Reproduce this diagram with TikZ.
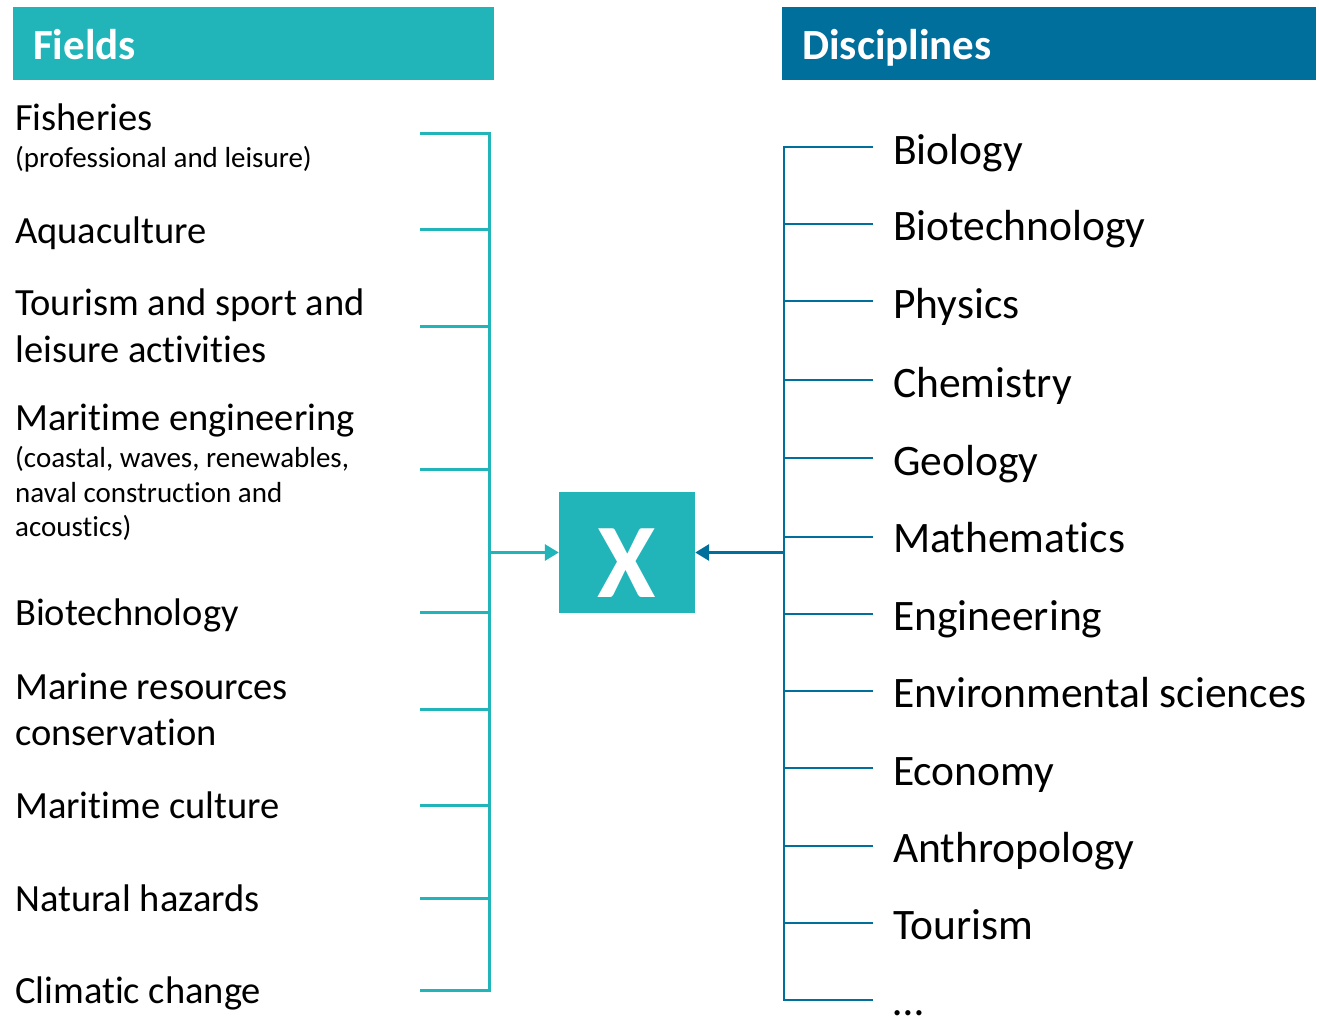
\documentclass[tikz,border=0pt]{standalone}
\usepackage{fontspec}
\setmainfont{Carlito}[Ligatures=NoCommon,RawFeature={-liga;-clig;-calt;-dlig}]
\usetikzlibrary{arrows.meta}
\definecolor{teal1}{HTML}{21B5B9}
\definecolor{blue1}{HTML}{016F9B}
\begin{document}
\begin{tikzpicture}[x=1pt,y=-1pt,
  hdr/.style={anchor=base west,text=white,font=\fontsize{43}{50}\selectfont\bfseries,inner sep=0pt},
  fld/.style={anchor=base west,font=\fontsize{38.5}{46}\selectfont,inner sep=0pt},
  sub/.style={anchor=base west,font=\fontsize{29}{34}\selectfont,inner sep=0pt},
  dsc/.style={anchor=base west,font=\fontsize{43.5}{50}\selectfont,inner sep=0pt},
  lline/.style={draw=teal1,line width=3pt},
  rline/.style={draw=blue1,line width=2.6pt}]
\useasboundingbox (0,0) rectangle (1319,1015);
% headers
\fill[teal1] (13,7) rectangle (494,80);
\fill[blue1] (782,7) rectangle (1316,80);
\node[hdr] (hf) at (33,59) {Fields};
\node[hdr] (hd) at (802,59) {Disciplines};
% center box
\node[fill=teal1,minimum width=136pt,minimum height=121pt,inner sep=0pt] (X) at (627,552.5) {};
\node[anchor=base,inner sep=0pt,text=white,font=\fontsize{106}{110}\selectfont\bfseries] (Xt) at (627,597) {X};
% left labels
\node[fld] (f1) at (15,130) {Fisheries};
\node[sub] (f1b) at (15,167) {(professional and leisure)};
\node[fld] (f2) at (15,243) {Aquaculture};
\node[fld] (f3) at (15,315) {Tourism and sport and};
\node[fld] (f3b) at (15,362) {leisure activities};
\node[fld] (f4) at (15,430) {Maritime engineering};
\node[sub] (f4b) at (15,467) {(coastal, waves, renewables,};
\node[sub] (f4c) at (15,502) {naval construction and};
\node[sub] (f4d) at (15,536) {acoustics)};
\node[fld] (f5) at (15,625) {Biotechnology};
\node[fld] (f6) at (15,699) {Marine resources};
\node[fld] (f6b) at (15,745) {conservation};
\node[fld] (f7) at (15,818) {Maritime culture};
\node[fld] (f8) at (15,911) {Natural hazards};
\node[fld] (f9) at (15,1003) {Climatic change};
% left bracket
\coordinate (lt) at (489,133);
\coordinate (lb) at (489,990);
\draw[lline] (420,133) -- (lt) -- (lb) -- (420,990);
\foreach \y in {229,326,469,612,709,805,898}
  \draw[lline] (420,\y) -- (489,\y);
\coordinate (la) at (489,552.5);
\draw[lline,-{Triangle[length=14pt,width=16pt]}] (la) -- (X.west);
% right labels
\node[dsc] (d1) at (893,164) {Biology};
\node[dsc] (d2) at (893,240) {Biotechnology};
\node[dsc] (d3) at (893,318) {Physics};
\node[dsc] (d4) at (893,397) {Chemistry};
\node[dsc] (d5) at (893,475) {Geology};
\node[dsc] (d6) at (893,552) {Mathematics};
\node[dsc] (d7) at (893,630) {Engineering};
\node[dsc] (d8) at (893,707) {Environmental sciences};
\node[dsc] (d9) at (893,785) {Economy};
\node[dsc] (d10) at (893,862) {Anthropology};
\node[dsc] (d11) at (893,939) {Tourism};
\node[dsc] (d12) at (893,1015) {\ldots};
% right bracket
\coordinate (rt) at (784,147);
\coordinate (rb) at (784,1000);
\draw[rline] (873,147) -- (rt) -- (rb) -- (873,1000);
\foreach \y in {224,301,380,458,537,614,691,768,846,923}
  \draw[rline] (784,\y) -- (873,\y);
\coordinate (ra) at (784,552.5);
\draw[rline,line width=3.2pt,-{Triangle[length=14pt,width=16pt]}] (ra) -- (X.east);
\end{tikzpicture}
\end{document}
